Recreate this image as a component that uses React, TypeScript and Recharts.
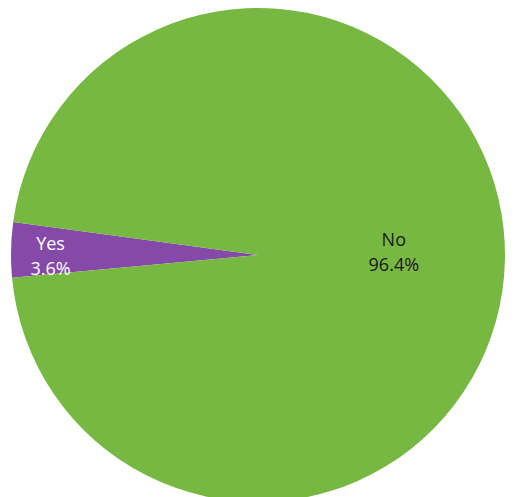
import React from "react";
import { PieChart, Pie, Cell } from "recharts";

const categories = ["Yes", "No"];
const shares = [3.6, 96.4];
const colors = ["#8549a8", "#77b843"];

const data = categories.map((name, i) => ({ name, value: shares[i] }));

const RAD = Math.PI / 180;

const renderLabel = (props: any) => {
  const { cx, cy, midAngle, outerRadius, index, name, value } = props;
  const ratio = index === 0 ? 0.84 : 0.55;
  const r = outerRadius * ratio;
  const x = cx + r * Math.cos(-midAngle * RAD);
  const y = cy + r * Math.sin(-midAngle * RAD) + (index === 0 ? 5 : -6);
  const fill = index === 0 ? "#ffffff" : "#1a1a1a";
  return (
    <text
      x={x}
      y={y}
      textAnchor="middle"
      fill={fill}
      fontFamily="'Open Sans', sans-serif"
      fontSize={18}
    >
      <tspan x={x} dy={-6}>{name}</tspan>
      <tspan x={x} dy={25}>{`${value.toFixed(1)}%`}</tspan>
    </text>
  );
};

export default function App() {
  return (
    <div style={{ position: "absolute", left: 0, top: 0, width: 519, height: 497, background: "#ffffff" }}>
      <PieChart width={519} height={497} margin={{ top: 0, right: 0, bottom: 0, left: 0 }}>
        <Pie
          data={data}
          dataKey="value"
          nameKey="name"
          cx={258}
          cy={255}
          outerRadius={247}
          startAngle={172.3}
          endAngle={532.3}
          stroke="none"
          label={renderLabel}
          labelLine={false}
          isAnimationActive={false}
        >
          {data.map((d, i) => (
            <Cell key={d.name} fill={colors[i]} />
          ))}
        </Pie>
      </PieChart>
    </div>
  );
}
